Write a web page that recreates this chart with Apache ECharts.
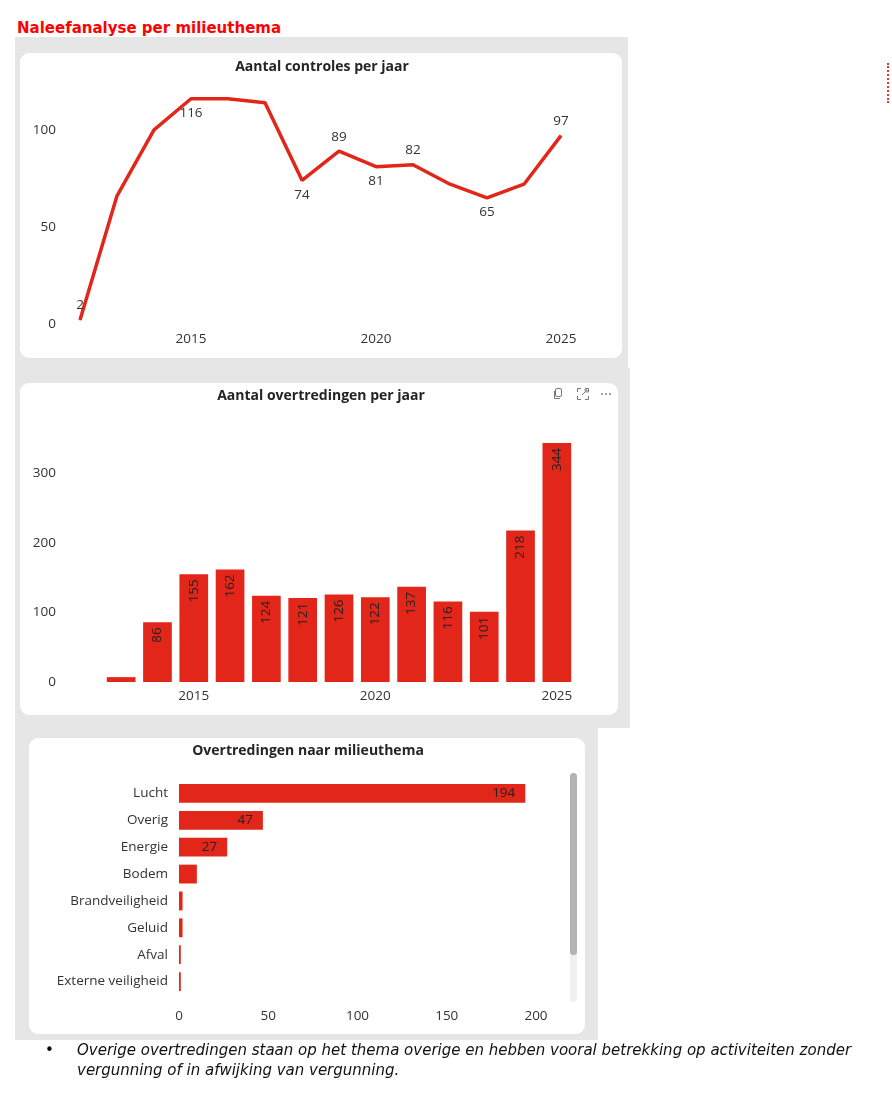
<!DOCTYPE html>
<html>
<head>
<meta charset="utf-8">
<title>Naleefanalyse per milieuthema</title>
<script src="https://cdn.jsdelivr.net/npm/echarts@6/dist/echarts.min.js"></script>
<style>
  body { margin: 0; background: #fff; }
  #page { position: relative; width: 892px; height: 1108px; overflow: hidden; font-family: 'DejaVu Sans', Verdana, sans-serif; }
  .pnl { position: absolute; background: #e6e6e6; }
  .card { position: absolute; background: #fff; border-radius: 9px; }
  #kop { position: absolute; left: 17px; top: 19px; color: #f00; font-weight: bold; font-size: 15px; }
  #noot { position: absolute; left: 77px; top: 1040px; width: 815px; font-style: italic; font-size: 15px; line-height: 20px; color: #111; white-space: nowrap; }
  #bol { position: absolute; left: 45px; top: 1040px; font-size: 15px; line-height: 20px; }
  #rand { position: absolute; left: 887px; top: 63px; height: 40px; border-left: 2px dotted #e33; }
  #chart { position: absolute; left: 0; top: 0; width: 892px; height: 1108px; }
  .ico { position: absolute; top: 388px; }
</style>
</head>
<body>
<div id="page">
  <div id="kop">Naleefanalyse per milieuthema</div>
  <div id="rand"></div>

  <div class="pnl" style="left:15px;top:37px;width:613px;height:331px"></div>
  <div class="card" style="left:20px;top:53px;width:602px;height:305px"></div>

  <div class="pnl" style="left:15px;top:368px;width:615px;height:360px"></div>
  <div class="card" style="left:20px;top:383px;width:598px;height:332px"></div>

  <div class="pnl" style="left:15px;top:728px;width:583px;height:312px"></div>
  <div class="card" style="left:29px;top:738px;width:556px;height:296px"></div>

  <!-- visual header icons -->
  <svg class="ico" style="left:552px" width="12" height="12" viewBox="0 0 12 12">
    <rect x="3.5" y="0.5" width="6" height="8" rx="1.5" fill="none" stroke="#777"/>
    <path d="M2.5 3 V10.5 H8" fill="none" stroke="#777"/>
  </svg>
  <svg class="ico" style="left:577px" width="12" height="12" viewBox="0 0 12 12">
    <path d="M0.5 4 V0.5 H4 M8 0.5 H11.5 V4 M11.5 8 V11.5 H8 M4 11.5 H0.5 V8" fill="none" stroke="#777"/>
    <path d="M5 7 L10 2 M7 2 H10 V5" fill="none" stroke="#777"/>
  </svg>
  <svg class="ico" style="left:600px" width="12" height="12" viewBox="0 0 12 12">
    <circle cx="2" cy="6" r="0.9" fill="#777"/><circle cx="6" cy="6" r="0.9" fill="#777"/><circle cx="10" cy="6" r="0.9" fill="#777"/>
  </svg>

  <div id="chart"></div>

  <div id="bol">•</div>
  <div id="noot">Overige overtredingen staan op het thema overige en hebben vooral betrekking op activiteiten zonder<br>vergunning of in afwijking van vergunning.</div>
</div>

<script>
// controles per jaar (lijn)
var jarenControles = ['2012', '2013', '2014', '2015', '2016', '2017', '2018', '2019', '2020', '2021', '2022', '2023', '2024', '2025'];
var controles = [2, 66, 100, 116, 116, 114, 74, 89, 81, 82, 72, 65, 72, 97];

// overtredingen per jaar (kolommen)
var jarenOvertredingen = ['2013', '2014', '2015', '2016', '2017', '2018', '2019', '2020', '2021', '2022', '2023', '2024', '2025'];
var overtredingen = [7, 86, 155, 162, 124, 121, 126, 122, 137, 116, 101, 218, 344];

// overtredingen naar milieuthema (staven)
var themas = ['Lucht', 'Overig', 'Energie', 'Bodem', 'Brandveiligheid', 'Geluid', 'Afval', 'Externe veiligheid'];
var themaAantallen = [194, 47, 27, 10, 2, 2, 1, 1];

var rood = '#e3261a';
var tekst = '#333';
var font = "'Open Sans', sans-serif";

// welke punten een label krijgen (zoals in het rapport)
var labelPos = { '2012': 'top', '2015': 'bottom', '2018': 'bottom', '2019': 'top', '2020': 'bottom', '2021': 'top', '2023': 'bottom', '2025': 'top' };

var lijnData = jarenControles.map(function (j, i) {
  return {
    value: controles[i],
    label: labelPos[j] ? { show: true, position: labelPos[j] } : { show: false }
  };
});

function titel(t, x, y) {
  return {
    type: 'text', x: x, y: y, z: 10,
    style: { text: t, textAlign: 'center', textVerticalAlign: 'middle', font: 'bold 14px ' + font, fill: '#252423' }
  };
}

var myChart = echarts.init(document.getElementById('chart'), null, { renderer: 'canvas' });

var option = {
  animation: false,
  textStyle: { fontFamily: font },
  graphic: [
    titel('Aantal controles per jaar', 322, 67),
    titel('Aantal overtredingen per jaar', 321, 396),
    titel('Overtredingen naar milieuthema', 308, 751),
    // schuifbalk
    { type: 'rect', shape: { x: 570, y: 773, width: 7, height: 229, r: 3.5 }, style: { fill: '#f0f0f0' } },
    { type: 'rect', shape: { x: 570, y: 773, width: 7, height: 182, r: 3.5 }, style: { fill: '#b3b3b3' } }
  ],
  grid: [
    { left: 80, top: 91, width: 481, height: 233 },
    { left: 103, top: 404, width: 472, height: 278 },
    { left: 179, top: 780, width: 357, height: 215 }
  ],
  xAxis: [
    {
      gridIndex: 0, type: 'category', data: jarenControles, boundaryGap: false,
      axisLine: { show: false }, axisTick: { show: false },
      axisLabel: {
        interval: function (idx, val) { return Number(val) % 5 === 0; },
        color: tekst, fontSize: 13.5, margin: 8
      }
    },
    {
      gridIndex: 1, type: 'category', data: jarenOvertredingen,
      axisLine: { show: false }, axisTick: { show: false },
      axisLabel: {
        interval: function (idx, val) { return Number(val) % 5 === 0; },
        color: tekst, fontSize: 13.5, margin: 7
      }
    },
    {
      gridIndex: 2, type: 'value', min: 0, max: 200, interval: 50,
      axisLine: { show: false }, axisTick: { show: false }, splitLine: { show: false },
      axisLabel: { color: tekst, fontSize: 13.5, margin: 14 }
    }
  ],
  yAxis: [
    {
      gridIndex: 0, type: 'value', min: 0, max: 120, interval: 50,
      axisLine: { show: false }, axisTick: { show: false }, splitLine: { show: false },
      axisLabel: {
        color: tekst, fontSize: 13.5, margin: 24,
        formatter: function (v) { return v % 50 === 0 ? v : ''; }
      }
    },
    {
      gridIndex: 1, type: 'value', min: 0, max: 400, interval: 100,
      axisLine: { show: false }, axisTick: { show: false }, splitLine: { show: false },
      axisLabel: {
        color: tekst, fontSize: 13.5, margin: 47,
        formatter: function (v) { return v < 400 ? v : ''; }
      }
    },
    {
      gridIndex: 2, type: 'category', data: themas, inverse: true,
      axisLine: { show: false }, axisTick: { show: false },
      axisLabel: { color: tekst, fontSize: 13.5, margin: 11 }
    }
  ],
  series: [
    {
      type: 'line', xAxisIndex: 0, yAxisIndex: 0,
      data: lijnData,
      symbol: 'circle', symbolSize: 1,
      itemStyle: { color: rood },
      lineStyle: { color: rood, width: 3.5 },
      label: { color: tekst, fontSize: 13.5, distance: 7 }
    },
    {
      type: 'bar', xAxisIndex: 1, yAxisIndex: 1,
      data: overtredingen,
      barWidth: '79%',
      itemStyle: { color: rood },
      label: {
        show: true, position: 'insideTop', rotate: 90, align: 'right', verticalAlign: 'middle',
        distance: 5, color: '#222', fontSize: 13.5,
        formatter: function (p) { return p.value >= 20 ? p.value : ''; }
      }
    },
    {
      type: 'bar', xAxisIndex: 2, yAxisIndex: 2,
      data: themaAantallen,
      barWidth: '70%',
      itemStyle: { color: rood },
      label: {
        show: true, position: 'insideRight', distance: 10, color: '#222', fontSize: 13.5,
        formatter: function (p) { return p.value >= 20 ? p.value : ''; }
      }
    }
  ]
};

myChart.setOption(option);
</script>
</body>
</html>
